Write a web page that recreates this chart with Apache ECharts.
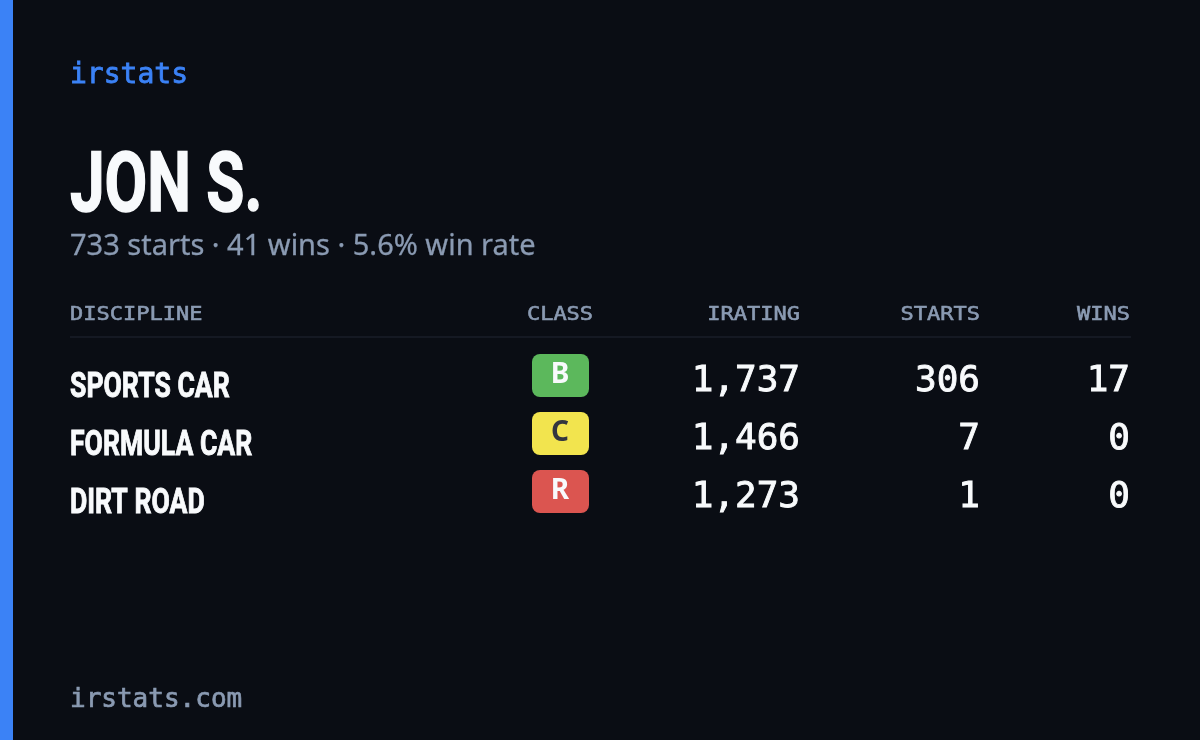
<!DOCTYPE html>
<html>
<head>
<meta charset="utf-8">
<title>irstats</title>
<style>
html, body { margin: 0; padding: 0; background: #0a0d14; }
#chart_card { width: 1200px; height: 740px; }
</style>
<script src="https://cdn.jsdelivr.net/npm/echarts@6/dist/echarts.min.js"></script>
</head>
<body>
<div id="chart_card"></div>
<script>
var brand = 'irstats';
var footer = 'irstats.com';
var driver = 'JON S.';
var totalStarts = 733;
var totalWins = 41;
var winRate = 5.6;

var headers = ['DISCIPLINE', 'CLASS', 'IRATING', 'STARTS', 'WINS'];
var disciplines = ['SPORTS CAR', 'FORMULA CAR', 'DIRT ROAD'];
var classes = ['B', 'C', 'R'];
var iratings = [1737, 1466, 1273];
var starts = [306, 7, 1];
var wins = [17, 0, 0];

// column anchors, in px because the x axis spans the whole card
var colX = [70, 560, 800, 980, 1130];
var colAlign = ['left', 'center', 'right', 'right', 'right'];
var classColor = { B: '#5cb85c', C: '#f2e44e', R: '#db5550' };
var classText = { B: '#f8fafc', C: '#33363f', R: '#f8fafc' };

var WHITE = '#f8fafc', MUTED = '#8a9ab2', BLUE = '#3b82f6';
var MONO = '"DejaVu Sans Mono"', COND = 'Roboto', SANS = '"Noto Sans"';

// sx squeezes or widens the glyphs, bold adds a thin outline for weight
function label(text, x, y, size, color, font, align, weight, sx, bold) {
    return {
        type: 'text', x: x, y: y, scaleX: sx || 1, silent: true,
        style: {
            text: text, x: 0, y: 0, fill: color, fontFamily: font, fontSize: size,
            fontWeight: weight || 'normal', align: align || 'left', verticalAlign: 'middle',
            stroke: bold ? color : null, lineWidth: bold || 0
        }
    };
}

// one column of text values, placed through the axes
function textColumn(name, colIdx, values, render) {
    return {
        name: name,
        type: 'custom',
        silent: true,
        animation: false,
        coordinateSystem: 'cartesian2d',
        data: values.map(function (v, i) { return [colX[colIdx], disciplines[i], v]; }),
        encode: { x: 0, y: 1 },
        renderItem: function (params, api) {
            var p = api.coord([api.value(0), api.value(1)]);
            return render(values[params.dataIndex], p[0], p[1], api);
        }
    };
}

function numberColumn(name, colIdx, values) {
    return textColumn(name, colIdx, values, function (v, x, y) {
        return label(v.toLocaleString('en-US'), x, y + 2, 36, WHITE, MONO, 'right', 'normal', 1, 0.9);
    });
}

var graphics = [
    { type: 'rect', shape: { x: 0, y: 0, width: 13, height: 740 }, style: { fill: BLUE }, silent: true },
    label(brand, 70, 76, 28, BLUE, MONO, 'left', 'normal', 1, 0.8),
    label(driver, 70, 190, 84, WHITE, COND, 'left', 'bold', 0.737, 1.5),
    label(totalStarts + ' starts · ' + totalWins + ' wins · ' + winRate + '% win rate', 70, 247, 29, MUTED, SANS, 'left', 'normal', 1, 0.3),
    { type: 'rect', shape: { x: 70, y: 336, width: 1061, height: 2 }, style: { fill: '#151923' }, silent: true },
    label(footer, 70, 700, 26, MUTED, MONO, 'left', 'normal', 1, 0.7)
];
headers.forEach(function (h, i) {
    graphics.push(label(h, colX[i], 315, 20, MUTED, MONO, colAlign[i], 'normal', 1.1, 0.6));
});

var myChart = echarts.init(document.getElementById('chart_card'));
myChart.setOption({
    backgroundColor: '#0a0d14',
    animation: false,
    grid: { left: 0, right: 0, top: 351, height: 174 },
    xAxis: { type: 'value', min: 0, max: 1200, show: false },
    yAxis: { type: 'category', inverse: true, show: false, data: disciplines },
    graphic: graphics,
    series: [
        textColumn('Discipline', 0, disciplines, function (v, x, y) {
            return label(v, x, y + 8, 35, WHITE, COND, 'left', 'bold', 0.76, 0.9);
        }),
        textColumn('Class', 1, classes, function (v, x, y) {
            return {
                type: 'group',
                children: [
                    {
                        type: 'rect',
                        shape: { x: x - 28, y: y - 26, width: 57, height: 43, r: 8 },
                        style: { fill: classColor[v] }
                    },
                    label(v, x, y - 5, 28, classText[v], SANS, 'center', 'bold')
                ]
            };
        }),
        numberColumn('iRating', 2, iratings),
        numberColumn('Starts', 3, starts),
        numberColumn('Wins', 4, wins)
    ]
});
</script>
</body>
</html>
